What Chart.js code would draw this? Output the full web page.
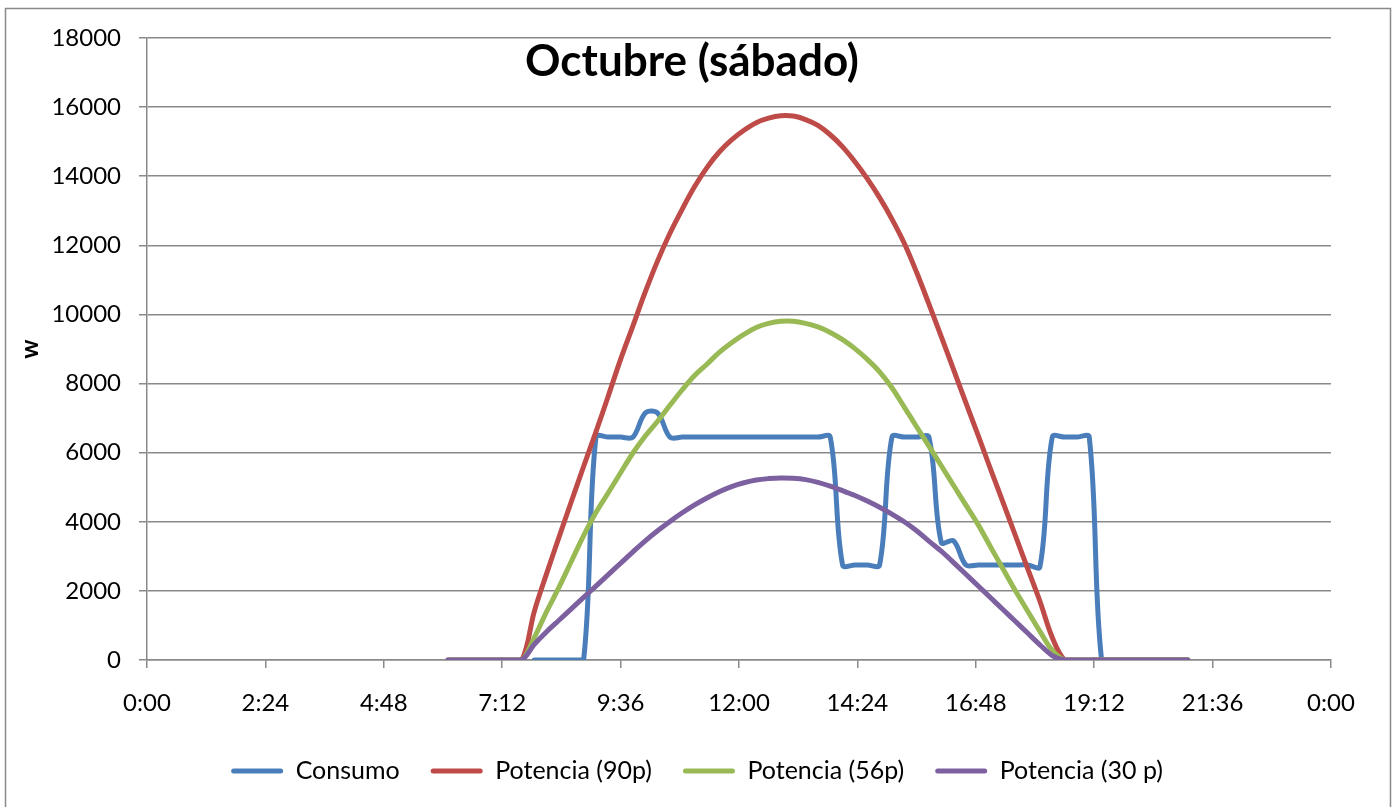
<!DOCTYPE html>
<html lang="es">
<head>
<meta charset="utf-8">
<title>Octubre (sábado)</title>
<script src="https://cdn.jsdelivr.net/npm/chart.js@4.4.1/dist/chart.umd.min.js"></script>
<style>
  html, body { margin: 0; padding: 0; background: #ffffff; }
  #marco { position: relative; width: 1394px; height: 807px; }
</style>
</head>
<body>
<div id="marco"><canvas id="grafico" width="1394" height="807"></canvas></div>
<script>
// Horas de lectura (cada 15 minutos)
const horas = [
  "6:06", "6:21", "6:36", "6:51", "7:06", "7:21", "7:36", "7:51", "8:06", "8:21",
  "8:36", "8:51", "9:06", "9:21", "9:36", "9:51", "10:06", "10:21", "10:36", "10:51",
  "11:06", "11:21", "11:36", "11:51", "12:06", "12:21", "12:36", "12:51", "13:06", "13:21",
  "13:36", "13:51", "14:06", "14:21", "14:36", "14:51", "15:06", "15:21", "15:36", "15:51",
  "16:06", "16:21", "16:36", "16:51", "17:06", "17:21", "17:36", "17:51", "18:06", "18:21",
  "18:36", "18:51", "19:06", "19:21", "19:36", "19:51", "20:06", "20:21", "20:36", "20:51",
  "21:06"
];

// Consumo de la instalación (W); sin registro antes de las 7:51
const consumo = [
  null, null, null, null, null, null, null, 0, 0, 0,
  0, 0, 6450, 6450, 6450, 6450, 7150, 7150, 6450, 6450,
  6450, 6450, 6450, 6450, 6450, 6450, 6450, 6450, 6450, 6450,
  6450, 6450, 2750, 2750, 2750, 2750, 6450, 6450, 6450, 6450,
  3400, 3450, 2750, 2750, 2750, 2750, 2750, 2750, 2700, 6450,
  6450, 6450, 6450, 0, 0, 0, 0, 0, 0, 0,
  0
];

// Potencia generada con 90 paneles (W)
const potencia90 = [
  0, 0, 0, 0, 0, 0, 0, 1400, 2500, 3550,
  4580, 5600, 6600, 7640, 8700, 9670, 10650, 11550, 12350, 13050,
  13700, 14250, 14700, 15050, 15330, 15550, 15680, 15750, 15740, 15640,
  15470, 15200, 14850, 14420, 13930, 13380, 12760, 12060, 11220, 10300,
  9360, 8400, 7440, 6490, 5520, 4570, 3610, 2650, 1700, 650,
  0, 0, 0, 0, 0, 0, 0, 0, 0, 0,
  0
];

// Potencia generada con 56 paneles (W)
const potencia56 = [
  0, 0, 0, 0, 0, 0, 0, 650, 1400, 2100,
  2850, 3600, 4270, 4840, 5420, 5990, 6480, 6910, 7370, 7820,
  8230, 8560, 8900, 9180, 9420, 9620, 9740, 9800, 9800, 9740,
  9640, 9480, 9270, 9010, 8700, 8340, 7880, 7320, 6750, 6190,
  5620, 5050, 4480, 3910, 3270, 2640, 2010, 1420, 830, 280,
  0, 0, 0, 0, 0, 0, 0, 0, 0, 0,
  0
];

// Potencia generada con 30 paneles (W)
const potencia30 = [
  0, 0, 0, 0, 0, 0, 0, 450, 820, 1150,
  1480, 1810, 2140, 2470, 2800, 3130, 3450, 3740, 4010, 4260,
  4490, 4690, 4870, 5020, 5130, 5210, 5250, 5270, 5260, 5220,
  5140, 5030, 4900, 4760, 4600, 4420, 4220, 4000, 3740, 3440,
  3150, 2820, 2480, 2140, 1800, 1460, 1120, 780, 440, 130,
  0, 0, 0, 0, 0, 0, 0, 0, 0, 0,
  0
];

// Marcas del eje horizontal: un día completo en minutos, cada 2:24
const ejeXMin = 0;
const ejeXMax = 1440;
const ejeXPaso = 144;
// Eje vertical (W)
const ejeYMax = 18000;
const ejeYPaso = 2000;

const aMinutos = (h) => {
  const [hh, mm] = h.split(":").map(Number);
  return hh * 60 + mm;
};
const aHora = (min) => {
  const m = Math.round(min) % 1440;
  return Math.floor(m / 60) + ":" + String(m % 60).padStart(2, "0");
};
const serie = (valores) => horas.map((h, i) => ({ x: aMinutos(h), y: valores[i] }));

const gris = "#898989";
const fuente = "Lato, 'Open Sans', sans-serif";

// Marco del área del gráfico y título superpuesto
const marcoPlugin = {
  id: "marco",
  beforeDraw(chart) {
    const { ctx } = chart;
    ctx.save();
    ctx.fillStyle = "#ffffff";
    ctx.fillRect(0, 0, chart.width, chart.height);
    ctx.strokeStyle = gris;
    ctx.lineWidth = 1.5;
    ctx.strokeRect(5.5, 8.5, chart.width - 9, chart.height + 20);
    ctx.restore();
  },
  afterDraw(chart, args, opts) {
    const { ctx } = chart;
    ctx.save();
    ctx.font = "bold 44px " + fuente;
    ctx.fillStyle = "#000000";
    ctx.textAlign = "center";
    ctx.textBaseline = "middle";
    ctx.fillText(opts.texto, opts.x, opts.y);
    ctx.restore();
  }
};

const colores = ["#4A7EBB", "#BE4B48", "#98B954", "#7D60A0"];

new Chart(document.getElementById("grafico"), {
  type: "line",
  data: {
    datasets: [
      { label: "Consumo", data: serie(consumo), borderColor: colores[0], order: 3 },
      { label: "Potencia (90p)", data: serie(potencia90), borderColor: colores[1], order: 2 },
      { label: "Potencia (56p)", data: serie(potencia56), borderColor: colores[2], order: 1 },
      { label: "Potencia (30 p)", data: serie(potencia30), borderColor: colores[3], order: 0 }
    ]
  },
  plugins: [marcoPlugin],
  options: {
    responsive: false,
    devicePixelRatio: 1,
    animation: false,
    layout: { padding: { left: 0, right: 0, top: 38, bottom: 13.5 } },
    elements: {
      line: { borderWidth: 5, tension: 0.35, borderCapStyle: "round", borderJoinStyle: "round", fill: false },
      point: { radius: 0, hoverRadius: 0 }
    },
    scales: {
      x: {
        type: "linear",
        min: ejeXMin,
        max: ejeXMax,
        afterFit: (s) => { s.height = 67.5; s.paddingRight = 63; },
        ticks: {
          stepSize: ejeXPaso,
          autoSkip: false,
          maxRotation: 0,
          padding: 20.6,
          color: "#000000",
          font: { family: fuente, size: 24 },
          callback: (v) => aHora(v)
        },
        grid: { drawOnChartArea: false, drawTicks: true, tickLength: 8, color: gris, lineWidth: 1.5 },
        border: { display: true, color: gris, width: 1.5 }
      },
      y: {
        min: 0,
        max: ejeYMax,
        afterFit: (s) => { s.width = 147; },
        ticks: {
          stepSize: ejeYPaso,
          padding: 18,
          color: "#000000",
          font: { family: fuente, size: 24 },
          callback: (v) => String(v)
        },
        grid: { color: gris, lineWidth: 1.5, drawTicks: true, tickLength: 8 },
        border: { display: true, color: gris, width: 1.5 },
        title: {
          display: true,
          text: "w",
          color: "#000000",
          font: { family: fuente, size: 24, weight: "bold" },
          padding: { top: 16, bottom: 0 }
        }
      }
    },
    plugins: {
      marco: { texto: "Octubre (sábado)", x: 692, y: 62 },
      title: { display: false },
      tooltip: { enabled: false },
      legend: {
        position: "bottom",
        labels: {
          boxWidth: 52,
          boxHeight: 5,
          padding: 31,
          color: "#000000",
          font: { family: fuente, size: 25 },
          generateLabels: (chart) => chart.data.datasets.map((ds, i) => ({
            text: ds.label,
            fillStyle: ds.borderColor,
            strokeStyle: ds.borderColor,
            lineWidth: 0,
            borderRadius: 2.5,
            hidden: false,
            datasetIndex: i,
            fontColor: "#000000"
          }))
        }
      }
    }
  }
});
</script>
</body>
</html>
